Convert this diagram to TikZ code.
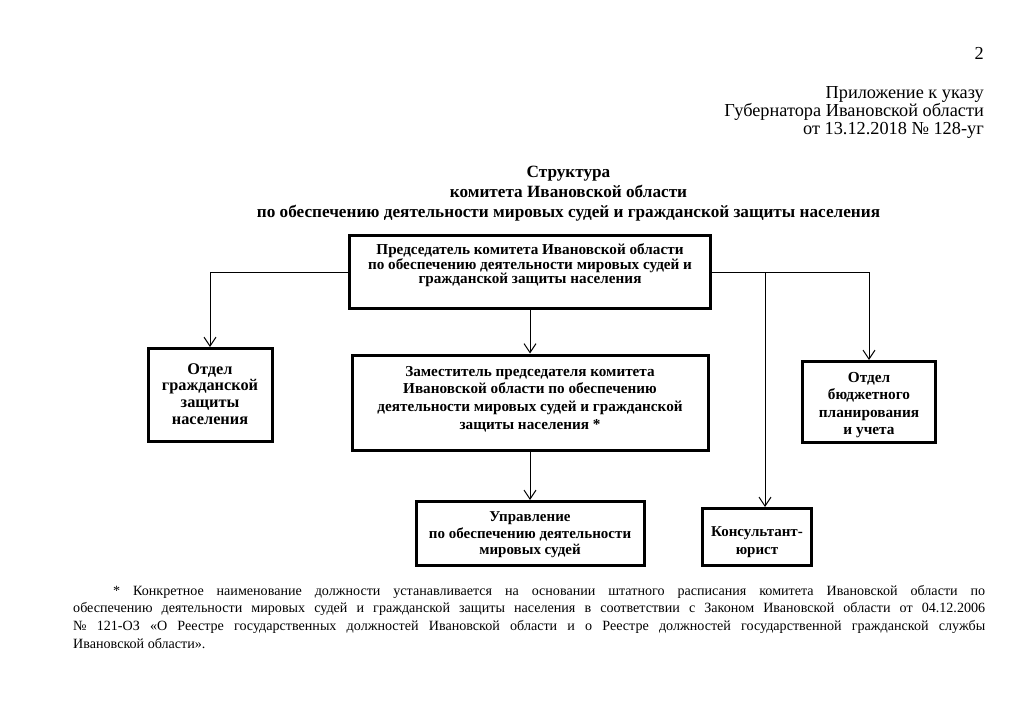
\documentclass[tikz,border=0pt]{standalone}
\usepackage{fontspec}
\setmainfont{Liberation Serif}
\usetikzlibrary{arrows.meta}
\begin{document}
\begin{tikzpicture}[x=1pt,y=-1pt,
  box/.style={draw, line width=3pt, inner sep=0pt},
  btext/.style 2 args={align=center, inner sep=0pt, font=\bfseries\fontsize{#1}{#2}\selectfont},
  arr/.style={-{Straight Barb[length=9pt,width=12pt]}, line width=1pt},
  fnline/.style={anchor=base west, inner sep=0pt, font=\fontsize{14.1}{17.7}\selectfont}]
\fill[white] (0,0) rectangle (1024,723);
\useasboundingbox (0,0) rectangle (1024,723);

% header
\node[anchor=east, inner sep=0pt, font=\fontsize{18.3}{18}\selectfont] (pg) at (984,53) {2};
\node[anchor=east, align=right, inner sep=0pt, font=\fontsize{18.3}{18}\selectfont] (hdr) at (984,112)
  {Приложение к указу\\Губернатора Ивановской области\\от 13.12.2018 № 128-уг};
\node[align=center, inner sep=0pt, font=\bfseries\fontsize{17.2}{20}\selectfont] (ttl) at (568.5,194)
  {Структура\\комитета Ивановской области\\по обеспечению деятельности мировых судей и гражданской защиты населения};

% boxes
\node[box, minimum width=361pt, minimum height=73pt] (chair) at (530,272) {};
\node[btext={15.2}{14}] (chairT) at (530,265.5)
  {Председатель комитета Ивановской области\\по обеспечению деятельности мировых судей и\\гражданской защиты населения};
\node[box, minimum width=124pt, minimum height=93pt] (civ) at (210,395) {};
\node[btext={16.3}{16.8}] (civT) at (210,394)
  {Отдел\\гражданской\\защиты\\населения};
\node[box, minimum width=356pt, minimum height=95pt] (dep) at (530,402.5) {};
\node[btext={15.2}{17.6}] (depT) at (530,399)
  {Заместитель председателя комитета\\Ивановской области по обеспечению\\деятельности мировых судей и гражданской\\защиты населения *};
\node[box, minimum width=133pt, minimum height=81pt] (bud) at (869,402) {};
\node[btext={15.3}{17.2}] (budT) at (869,405)
  {Отдел\\бюджетного\\планирования\\и учета};
\node[box, minimum width=228pt, minimum height=64pt] (upr) at (530,533.5) {};
\node[btext={15}{16.5}] (uprT) at (530,535)
  {Управление\\по обеспечению деятельности\\мировых судей};
\node[box, minimum width=109pt, minimum height=57pt] (kons) at (757,537) {};
\node[btext={15}{18}] (konsT) at (757,542)
  {Консультант-\\юрист};

% connectors
\coordinate (kt) at (765,272);
\draw[arr] (chair.west) -| (civ.north);
\draw[arr] (chair.east) -| (bud.north);
\draw[arr] (kt) -- (kt |- kons.north);
\draw[arr] (chair.south) -- (dep.north);
\draw[arr] (dep.south) -- (upr.north);

% footnote
\node[fnline] (fn1) at (113,595)
  {\makebox[872pt][s]{* Конкретное наименование должности устанавливается на основании штатного расписания комитета Ивановской области по}};
\node[fnline] (fn2) at (73,612.7)
  {\makebox[912pt][s]{обеспечению деятельности мировых судей и гражданской защиты населения в соответствии с Законом Ивановской области от 04.12.2006}};
\node[fnline] (fn3) at (73,630.4)
  {\makebox[912pt][s]{№ 121-ОЗ «О Реестре государственных должностей Ивановской области и о Реестре должностей государственной гражданской службы}};
\node[fnline] (fn4) at (73,648.1) {Ивановской области».};
\end{tikzpicture}
\end{document}
